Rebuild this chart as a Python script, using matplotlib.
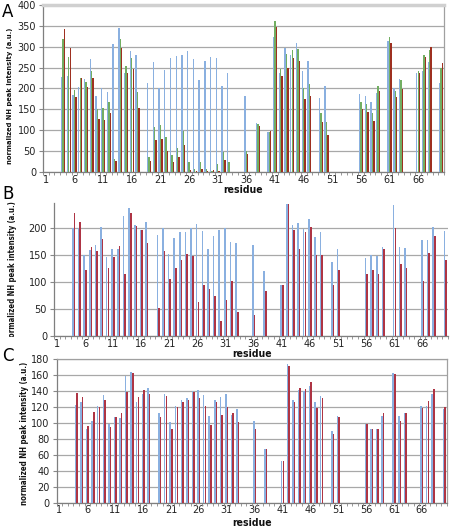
import numpy as np
import matplotlib
matplotlib.use("Agg")
import matplotlib.pyplot as plt
from matplotlib.transforms import Bbox, TransformedBbox
from matplotlib import font_manager
from matplotlib.font_manager import FontProperties

N = None
residues = list(range(1, 71))
xticks_labels = list(range(1, 70, 5))

A_blue = [N,N,N,227,229,184,203,222,270,181,200,191,307,344,237,290,280,N,213,263,200,244,273,278,280,290,270,220,266,276,273,205,236,N,N,182,N,118,N,95,324,237,296,280,308,242,267,N,178,206,N,N,N,N,N,188,183,168,190,N,314,201,223,N,N,237,243,264,N,213]
A_green = [N,N,N,319,276,196,225,216,243,150,154,168,30,319,255,273,191,N,36,108,112,84,41,57,99,24,6,24,6,2,18,49,24,N,N,51,N,115,N,96,361,246,283,292,294,201,211,N,142,120,N,N,N,N,N,168,163,141,207,N,324,194,221,N,N,243,280,292,N,249]
A_red = [N,N,N,343,298,180,225,204,225,127,125,142,27,298,236,247,154,N,27,77,80,51,24,37,65,4,2,7,2,5,2,29,1,N,N,44,N,109,N,99,348,230,249,273,267,174,182,N,120,89,N,N,N,N,N,151,143,123,194,N,310,180,198,N,N,236,275,300,N,262]

B_blue = [N,N,N,200,200,150,159,169,202,146,160,161,221,237,205,196,211,N,187,199,152,182,192,192,200,207,194,161,185,196,200,174,171,N,N,169,N,120,N,N,94,244,205,208,198,216,183,193,N,137,160,N,N,N,N,145,150,148,164,N,241,164,162,N,N,178,178,202,N,194]
B_red = [N,N,N,227,210,122,164,157,179,126,147,167,115,227,204,196,172,N,52,157,105,126,140,151,148,63,94,87,74,28,66,101,45,N,N,39,N,84,N,N,94,244,196,161,192,202,150,150,N,94,123,N,N,N,N,115,123,115,161,N,199,133,126,N,N,101,153,185,N,140]

C_blue = [N,N,N,123,126,93,103,121,135,99,107,106,159,164,126,137,144,N,113,136,101,122,129,132,140,141,135,109,129,133,137,110,117,N,N,102,N,67,N,N,52,174,129,142,140,147,126,134,N,90,109,N,N,N,N,99,93,93,109,N,163,109,113,N,N,121,122,136,N,117]
C_red = [N,N,N,138,133,96,114,120,129,95,108,112,139,163,133,141,136,N,107,134,92,120,126,129,139,131,122,97,127,110,120,112,101,N,N,93,N,67,N,N,52,172,126,144,143,151,119,131,N,86,107,N,N,N,N,99,93,93,113,N,162,103,113,N,N,119,128,143,N,120]

A_yticks = [0, 50, 100, 150, 200, 250, 300, 350, 400]
B_yticks = [0, 50, 100, 150, 200]
C_yticks = [0, 20, 40, 60, 80, 100, 120, 140, 160, 180]

blue = '#8AB0E0'
green = '#72AE62'
redA = '#9E3020'
redB = '#AE3444'

W, H = 451, 528
fig = plt.figure(figsize=(W/100, H/100), dpi=100)
fig.patch.set_facecolor('white')

cond = None
for f in font_manager.fontManager.ttflist:
    nm = (f.name + ' ' + f.fname).lower()
    if ('narrow' in nm or 'condensed' in nm) and ('bold' in nm or f.weight in ('bold', 700)) \
            and 'oblique' not in nm and 'italic' not in nm:
        cond = f.fname
        break
if cond:
    title_fp = FontProperties(fname=cond, size=7)
else:
    title_fp = FontProperties(family='DejaVu Sans', weight='bold', size=7)

def rect(l, r, t, b):
    return [l/W, 1-b/H, (r-l)/W, (b-t)/H]

def draw_bars(ax, series, colors, offsets, width):
    for vals, col, off in zip(series, colors, offsets):
        xs = [r + off for r, v in zip(residues, vals) if v is not None]
        hs = [v for v in vals if v is not None]
        ax.bar(xs, hs, width=width, color=col, linewidth=0, zorder=3, antialiased=False)

def style(ax, ymax, yticks, box):
    ax.set_xlim(0.5, 70.5)
    ax.set_ylim(0, ymax)
    ax.set_yticks(yticks, labels=[str(v) for v in yticks])
    ax.set_xticks(xticks_labels, labels=[str(v) for v in xticks_labels])
    ax.set_xticks(np.arange(0.5, 71, 1), minor=True)
    ax.tick_params(axis='x', which='major', length=0, labelsize=7, pad=2, labelcolor='#222222')
    ax.tick_params(axis='x', which='minor', length=2, color='#888888')
    ax.tick_params(axis='y', which='major', length=3, color='#888888', labelsize=7,
                   labelcolor='#222222', pad=2)
    ax.grid(axis='y', color='#A8A8A8', linewidth=0.9, zorder=0)
    ax.set_axisbelow(True)
    for s in ['left', 'bottom']:
        ax.spines[s].set_color('#7F7F7F')
        ax.spines[s].set_linewidth(0.9)
    for s in ['top', 'right']:
        if box:
            ax.spines[s].set_color('#A0A0A0')
            ax.spines[s].set_linewidth(0.9)
        else:
            ax.spines[s].set_visible(False)

ylab = 'normalized NH peak intensity (a.u.)'

def ylabel_at(x, yc, length):
    t = fig.text(x/W, 1-yc/H, ylab, rotation=90, fontproperties=title_fp.copy(),
                 ha='center', va='center', color='#111111')
    r = fig.canvas.get_renderer()
    ext = t.get_window_extent(renderer=r)
    t.set_fontsize(t.get_fontsize() * length / ext.height)
    return t

def residue_at(x, y):
    fp = title_fp.copy()
    fp.set_size(7.5)
    fig.text(x/W, 1-y/H, 'residue', fontproperties=fp, ha='center', va='center', color='#111111')

# Panel C first, then B, then A (A drawn last)
axC = fig.add_axes(rect(56.7, 447, 359.3, 502.7))
draw_bars(axC, [C_blue, C_red], [blue, redB], [-0.15, 0.15], 0.27)
style(axC, 180, C_yticks, True)

axB = fig.add_axes(rect(54, 448, 203.3, 336.3))
draw_bars(axB, [B_blue, B_red], [blue, redB], [-0.15, 0.15], 0.27)
style(axB, 245, B_yticks, False)

axA = fig.add_axes(rect(43, 444, 5, 172))
draw_bars(axA, [A_blue, A_green, A_red], [blue, green, redA], [-0.25, 0, 0.25], 0.24)
style(axA, 400, A_yticks, True)
axA.spines['top'].set_color('#D0D0D0')
axA.spines['top'].set_linewidth(2.5)

ylabel_at(10, 96, 136)
residue_at(243, 190)
fig.text(2/W, 1-12/H, 'A', fontsize=12, ha='left', va='center')

tB = ylabel_at(13, 272, 140)
tB.set_clip_box(TransformedBbox(Bbox([[0, 1-337/H], [1, 1]]), fig.transFigure))
tB.set_clip_on(True)
residue_at(252, 354)
fig.text(2/W, 1-194/H, 'B', fontsize=12, ha='left', va='center')

ylabel_at(25, 433, 142)
residue_at(252, 523)
fig.text(2/W, 1-356/H, 'C', fontsize=12, ha='left', va='center')

fig.savefig('out.png', dpi=100, facecolor='white')
